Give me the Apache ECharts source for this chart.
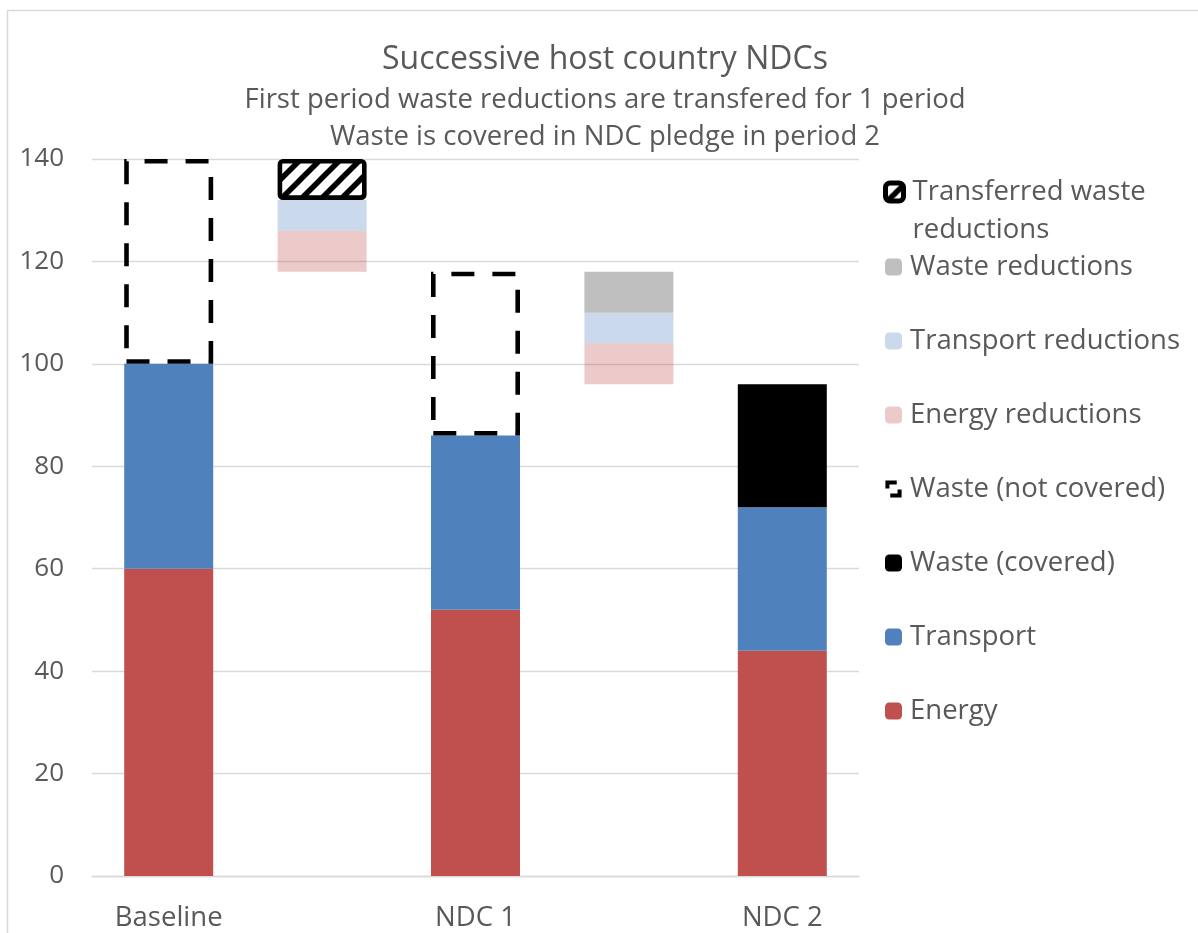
<!DOCTYPE html>
<html>
<head>
<meta charset="utf-8">
<script src="https://cdn.jsdelivr.net/npm/echarts@6/dist/echarts.min.js"></script>
<style>
html,body{margin:0;padding:0;background:#fff;}
#chart{width:1198px;height:933px;}
</style>
</head>
<body>
<div id="chart"></div>
<script>
// ---- data ----
const categories = ['Baseline', '', 'NDC 1', '', 'NDC 2'];
const baseOffset = ['-', 118, '-', 96, '-'];          // invisible floor for reduction bars
const energy = [60, '-', 52, '-', 44];
const transport = [40, '-', 34, '-', 28];
const wasteCovered = ['-', '-', '-', '-', 24];
const wasteNotCovered = [40, '-', 32, '-', '-'];
const energyReductions = ['-', 8, '-', 8, '-'];
const transportReductions = ['-', 6, '-', 6, '-'];
const wasteReductions = ['-', '-', '-', 8, '-'];
const transferredWasteReductions = ['-', 8, '-', '-', '-'];
const yTicks = { min: 0, max: 140, interval: 20 };

// ---- hatch pattern ----
function makeHatch() {
  const s = 20;
  const c = document.createElement('canvas');
  c.width = s; c.height = s;
  const g = c.getContext('2d');
  g.fillStyle = '#fff';
  g.fillRect(0, 0, s, s);
  g.strokeStyle = '#000';
  g.lineWidth = 5.5;
  g.beginPath();
  g.moveTo(-s, 2 * s); g.lineTo(2 * s, -s);
  g.moveTo(-2 * s, 2 * s); g.lineTo(s, -s);
  g.moveTo(0, 2 * s); g.lineTo(3 * s, -s);
  g.stroke();
  return c;
}
const hatch = { image: makeHatch(), repeat: 'repeat' };

const TXT = '#595959';
const FONT = 'Open Sans';
const chart = echarts.init(document.getElementById('chart'), null, { renderer: 'canvas' });

const barW = 89;
function bar(name, data, itemStyle, extra) {
  return Object.assign({
    name: name, type: 'bar', stack: 'total', data: data, barWidth: barW,
    itemStyle: itemStyle, emphasis: { disabled: true }
  }, extra || {});
}

const option = {
  animation: false,
  textStyle: { fontFamily: FONT },
  graphic: [{
    type: 'rect', silent: true, z: -10,
    shape: { x: 7.5, y: 10.5, width: 1400, height: 1200 },
    style: { fill: 'none', stroke: '#d9d9d9', lineWidth: 1.5 }
  }],
  title: [{
    text: 'Successive host country NDCs',
    left: 605, top: 44, textAlign: 'center', padding: 0,
    textStyle: { fontFamily: FONT, fontSize: 32, fontWeight: 'normal', color: TXT }
  }, {
    text: 'First period waste reductions are transfered for 1 period\nWaste is covered in NDC pledge in period 2',
    left: 605, top: 81.5, textAlign: 'center', padding: 0,
    textStyle: { fontFamily: FONT, fontSize: 27.5, fontWeight: 'normal', color: TXT, lineHeight: 37 }
  }],
  grid: { left: 92, right: 339, top: 159, bottom: 57, containLabel: false },
  legend: [{
    orient: 'vertical', left: 883, top: 135, padding: 0,
    itemWidth: 18, itemHeight: 18,
    data: [{ name: 'Transferred waste reductions', itemStyle: { borderWidth: 5, borderColor: '#000', borderRadius: 2 } }],
    formatter: function () { return '\nTransferred waste\nreductions'; },
    textStyle: { fontFamily: FONT, fontSize: 27.5, color: TXT, lineHeight: 38, padding: [0, 0, 0, 4] }
  }, {
    orient: 'vertical', left: 885, top: 252, padding: 0,
    itemWidth: 17, itemHeight: 17, itemGap: 44,
    data: [
      'Waste reductions', 'Transport reductions', 'Energy reductions',
      {
        name: 'Waste (not covered)',
        icon: 'path://M0,0 H14 V5 H5 V10 H0 Z M20,21 H6 V16 H15 V11 H20 Z',
        itemStyle: { color: '#000', borderWidth: 0 }
      },
      'Waste (covered)', 'Transport', 'Energy'
    ],
    textStyle: { fontFamily: FONT, fontSize: 27.5, color: TXT, lineHeight: 30, padding: [0, 0, 0, 3] }
  }],
  xAxis: {
    type: 'category', data: categories,
    axisLine: { lineStyle: { color: '#d9d9d9', width: 1.3 } },
    axisTick: { show: false },
    axisLabel: { color: TXT, fontSize: 27.5, fontFamily: FONT, margin: 28, interval: 0 }
  },
  yAxis: {
    type: 'value', min: yTicks.min, max: yTicks.max, interval: yTicks.interval,
    axisLine: { show: false }, axisTick: { show: false },
    splitLine: { lineStyle: { color: '#d9d9d9', width: 1.3 } },
    axisLabel: { color: TXT, fontSize: 26, fontFamily: FONT, margin: 28 }
  },
  series: [
    bar('_base', baseOffset, { color: 'rgba(0,0,0,0)' }, { legendHoverLink: false, silent: true }),
    bar('Energy', energy, { color: '#c0504d' }),
    bar('Transport', transport, { color: '#4f81bd' }),
    bar('Waste (covered)', wasteCovered, { color: '#000000' }),
    bar('Waste (not covered)', wasteNotCovered, {
      color: 'rgba(255,255,255,0)', borderColor: '#000', borderWidth: 4.6,
      borderType: [23, 18], borderCap: 'butt'
    }),
    bar('Energy reductions', energyReductions, { color: 'rgba(192,80,77,0.3)' }),
    bar('Transport reductions', transportReductions, { color: 'rgba(79,129,189,0.3)' }),
    bar('Waste reductions', wasteReductions, { color: '#bfbfbf' }),
    bar('Transferred waste reductions', transferredWasteReductions, {
      color: hatch, borderColor: '#000', borderWidth: 4.6, borderRadius: 3
    })
  ]
};
chart.setOption(option);
</script>
</body>
</html>
